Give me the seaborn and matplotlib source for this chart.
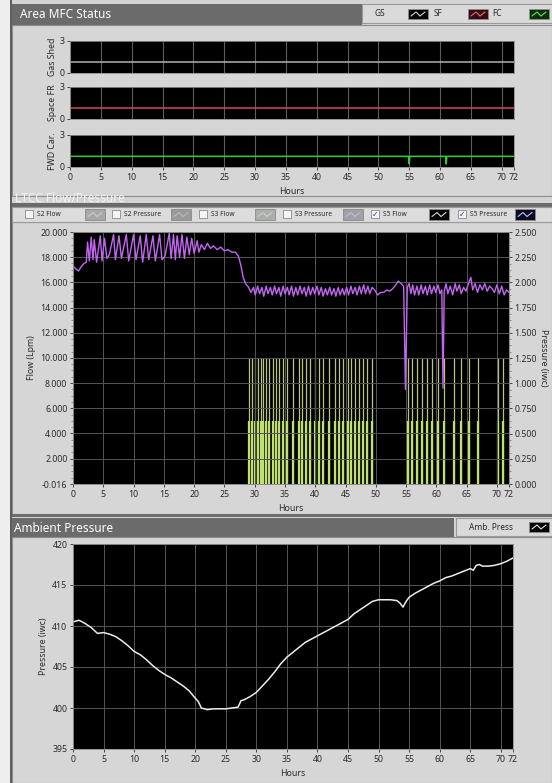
import matplotlib
matplotlib.use("Agg")
import matplotlib.pyplot as plt
import seaborn as sns
from matplotlib.patches import Rectangle
from matplotlib.lines import Line2D
from matplotlib.ticker import MultipleLocator, FormatStrFormatter

# ---------------- data ----------------
hour_ticks = [0, 5, 10, 15, 20, 25, 30, 35, 40, 45, 50, 55, 60, 65, 70, 72]

# Area MFC status (state lines)
gas_shed_hours = [0, 72]
gas_shed_state = [1, 1]
space_fr_hours = [0, 72]
space_fr_state = [1, 1]
fwd_car_hours = [0, 54.9, 55.0, 55.1, 60.9, 61.0, 61.1, 72]
fwd_car_state = [1, 1, 0.3, 1, 1, 0.3, 1, 1]

# LTCC S5 flow (purple trace)
flow_hours = [0.0, 0.4, 0.9, 1.3, 1.8, 2.2,
              2.4, 2.7, 3.0, 3.3, 3.5, 3.9, 4.5, 4.8, 5.2, 5.6, 6.0, 6.7, 7.0, 7.6,
              8.0, 8.8, 9.2, 10.0, 10.4, 11.1, 11.5, 12.1, 12.5, 13.2, 13.6, 14.3, 14.7,
              15.2, 15.9, 16.2, 16.6, 16.9, 17.2, 17.6, 18.0, 18.4, 18.8, 19.2, 19.6,
              20.0, 20.5, 20.8, 21.2, 21.7, 22.2, 22.7, 23.2, 23.8, 24.4, 25.0, 25.6,
              26.2, 26.8, 27.3, 27.7, 28.1, 28.5, 29.0, 29.4,
              29.8, 30.1, 30.5, 30.8, 31.2, 31.5, 31.9, 32.2, 32.6, 32.9, 33.3, 33.6,
              34.0, 34.3, 34.7, 35.0, 35.4, 35.7, 36.1, 36.4, 36.8, 37.1, 37.5, 37.8,
              38.2, 38.5, 38.9, 39.2, 39.6, 39.9, 40.3, 40.6, 41.0, 41.3, 41.7, 42.0,
              42.4, 42.7, 43.1, 43.4, 43.8, 44.1, 44.5, 44.8, 45.2, 45.5, 45.9, 46.2,
              46.6, 46.9, 47.3, 47.6, 48.0, 48.3, 48.7, 49.0, 49.4,
              49.8, 50.3, 50.8, 51.3, 51.8, 52.3, 52.8, 53.3, 53.7, 54.2, 54.6, 54.9,
              55.2, 55.5, 55.8, 56.1, 56.4, 56.8, 57.1, 57.5, 57.8, 58.2, 58.5, 58.9,
              59.2, 59.6, 59.9, 60.3, 60.6, 60.9, 61.1, 61.3, 61.6, 61.9, 62.3, 62.7,
              63.1, 63.4, 63.8, 64.1, 64.5, 64.9, 65.3, 65.7, 66.0, 66.4, 66.8, 67.2,
              67.6, 68.0, 68.4, 68.8, 69.2, 69.6, 70.0, 70.4, 70.8, 71.2, 71.6, 72.0]
flow_lpm = [17.3, 17.1, 16.9, 17.2, 17.5, 17.6,
            19.2, 17.7, 19.6, 17.8, 19.4, 17.6, 19.7, 17.7, 19.5, 17.9, 18.2, 19.8, 17.8, 19.7,
            17.9, 19.8, 17.7, 19.8, 17.8, 19.7, 17.6, 19.8, 17.8, 19.7, 17.7, 19.8, 17.8,
            18.1, 19.9, 17.9, 19.8, 17.8, 19.7, 18.0, 19.8, 17.9, 19.6, 18.2, 19.5,
            18.3, 19.3, 18.4, 19.0, 18.6, 19.1, 18.7, 18.9, 18.6, 18.8, 18.5, 18.6,
            18.4, 18.4, 18.1, 17.4, 16.4, 15.9, 15.6, 15.2,
            15.6, 15.0, 15.7, 15.1, 15.6, 14.9, 15.7, 15.1, 15.6, 15.0, 15.7, 15.1,
            15.6, 14.9, 15.7, 15.1, 15.6, 15.0, 15.7, 14.9, 15.6, 15.0, 15.7, 15.1,
            15.6, 14.9, 15.7, 15.0, 15.6, 15.1, 15.7, 15.0, 15.6, 14.9, 15.5, 15.0,
            15.6, 15.0, 15.5, 14.9, 15.6, 15.0, 15.5, 15.0, 15.6, 15.0, 15.7, 15.1,
            15.6, 15.0, 15.7, 15.1, 15.8, 15.1, 15.7, 15.1, 15.6,
            15.4, 15.0, 15.2, 15.2, 15.4, 15.3, 15.5, 15.8, 16.1, 15.9, 15.7, 7.5,
            15.6, 15.9, 15.1, 15.8, 15.0, 15.7, 15.0, 15.8, 15.1, 15.7, 15.0, 15.8,
            15.1, 15.7, 15.2, 15.8, 15.1, 15.4, 7.6, 15.3, 15.9, 15.1, 15.7, 15.0,
            15.9, 15.3, 15.8, 15.1, 15.6, 15.3, 15.9, 16.4, 15.4, 15.9, 15.2, 15.8,
            15.4, 15.9, 15.3, 15.7, 15.5, 15.2, 15.8, 15.1, 15.7, 15.0, 15.4, 15.2]

# LTCC S5 pressure pulses (green-yellow bars)
pulse_hours = [29.1, 29.6, 30.1, 30.5, 31.0, 31.4, 31.9, 32.4, 33.0, 33.5, 34.1,
               34.6, 35.4, 36.4, 37.3, 37.8, 38.5, 39.1, 39.9, 40.6, 41.3, 42.2,
               43.2, 44.0, 44.6, 45.4, 45.9, 46.6, 47.3, 47.9, 48.6, 49.4,
               55.3, 55.9, 56.8, 57.6, 58.4, 59.3, 60.3, 61.3, 62.9, 64.1, 65.4,
               66.9, 70.2, 71.0]
pulse_peak_iwc = 1.25
pulse_hold_iwc = 0.625

# Ambient pressure
amb_hours = [0, 1, 2, 3, 4, 5, 6, 7, 8, 9, 10, 11, 12, 13, 14, 15, 16, 17, 18, 19,
             20, 20.5, 21, 22, 23, 24, 25, 26, 27, 27.5, 28, 29, 30, 31, 32, 33, 34,
             35, 36, 37, 38, 39, 40, 41, 42, 43, 44, 45, 46, 47, 48, 49, 50, 51, 52,
             53, 53.5, 54, 54.5, 55, 56, 57, 58, 59, 60, 61, 62, 63, 64, 65, 65.5, 66,
             66.5, 67, 68, 69, 70, 71, 72]
amb_pressure = [410.5, 410.7, 410.3, 409.8, 409.1, 409.2, 409.0, 408.7, 408.2, 407.6,
                406.9, 406.5, 405.9, 405.2, 404.6, 404.1, 403.7, 403.2, 402.7, 402.1,
                401.2, 400.8, 400.0, 399.8, 399.9, 399.9, 399.9, 400.0, 400.1, 400.9,
                401.0, 401.4, 401.9, 402.7, 403.5, 404.4, 405.4, 406.2, 406.8, 407.4,
                408.0, 408.4, 408.8, 409.2, 409.6, 410.0, 410.4, 410.8, 411.5, 412.0,
                412.5, 413.0, 413.2, 413.2, 413.2, 413.1, 412.8, 412.3, 413.0, 413.5,
                414.0, 414.4, 414.8, 415.2, 415.5, 415.9, 416.1, 416.4, 416.7, 417.0,
                416.8, 417.4, 417.5, 417.3, 417.3, 417.4, 417.6, 417.9, 418.3]

# ---------------- figure ----------------
sns.set_style("dark")
plt.rcParams['font.family'] = ['Noto Sans', 'DejaVu Sans']

W, H = 552, 783
fig = plt.figure(figsize=(W / 100, H / 100), dpi=100, facecolor='#d4d4d4')
TICK = 6.3
GRID = '#555555'


def box(x0, y0, x1, y1):
    return [x0 / W, 1 - y1 / H, (x1 - x0) / W, (y1 - y0) / H]


def rect(x0, y0, x1, y1, fc, ec='none', lw=0.8):
    fig.add_artist(Rectangle((x0 / W, 1 - y1 / H), (x1 - x0) / W, (y1 - y0) / H,
                             transform=fig.transFigure, facecolor=fc, edgecolor=ec,
                             linewidth=lw, zorder=0))


def txt(x, y, s, size=6, color='#2a2a2a', **kw):
    fig.text(x / W, 1 - y / H, s, fontsize=size, color=color, va='center', **kw)


def icon(x0, y0, fc, lc):
    rect(x0, y0, x0 + 20, y0 + 10, fc, '#8a8a8a', 0.6)
    fig.add_artist(Line2D([(x0 + 3) / W, (x0 + 8) / W, (x0 + 12) / W, (x0 + 17) / W],
                          [1 - (y0 + 7) / H, 1 - (y0 + 3) / H, 1 - (y0 + 7) / H, 1 - (y0 + 3) / H],
                          transform=fig.transFigure, color=lc, lw=0.8))


def checkbox(x, y, checked):
    rect(x, y, x + 8, y + 8, '#f4f4f4', '#8a8a8a', 0.6)
    if checked:
        txt(x + 4, y + 4.5, '✓', size=5.5, color='#2040a0', ha='center',
            family='DejaVu Sans')


def style(ax):
    ax.set_facecolor('black')
    for s in ax.spines.values():
        s.set_color('#8c8c8c')
        s.set_linewidth(0.6)
    ax.tick_params(axis='both', which='major', colors='#2a2a2a', labelsize=TICK,
                   length=2.5, width=0.6, pad=1.5, left=True, bottom=True)
    ax.tick_params(axis='both', which='minor', color='#6a6a6a', length=1.5, width=0.5)


def set_grid(ax):
    ax.xaxis.grid(True, which='major', color=GRID, linewidth=0.7)
    ax.yaxis.grid(True, which='major', color=GRID, linewidth=0.7)
    ax.xaxis.grid(False, which='minor')
    ax.yaxis.grid(False, which='minor')


# panels and headers
rect(0, 0, 10, 783, '#eeeeee')
rect(10, 0, 12, 783, '#5e5e5e')
rect(12, 25, 552, 196, '#d6d6d6', '#8c8c8c')
rect(12, 222, 552, 514, '#d6d6d6', '#8c8c8c')
rect(12, 537, 552, 783, '#d6d6d6', '#8c8c8c')
rect(12, 514, 552, 517, '#6e6e6e')
rect(12, 4, 362, 25, '#6b6b6b')
rect(362, 4, 552, 23, '#dadada', '#9a9a9a')
rect(12, 203, 552, 207, '#6b6b6b')
rect(12, 207, 552, 222, '#dcdcdc', '#9a9a9a')
rect(12, 518, 454, 537, '#6b6b6b')
rect(456, 518, 552, 536, '#dadada', '#9a9a9a')

txt(20, 14, 'Area MFC Status', size=8.5, color='white')
txt(15, 199, 'LTCC Flow/Pressure', size=8.5, color='#f4f4f4')
txt(14, 528, 'Ambient Pressure', size=8.5, color='white')

# top legend
txt(380, 14, 'GS', size=6, ha='center')
icon(408, 9, '#050505', '#d0d0d0')
txt(438, 14, 'SF', size=6, ha='center')
icon(468, 9, '#3a0a14', '#e07080')
txt(497, 14, 'FC', size=6, ha='center')
icon(529, 9, '#0a300a', '#60e060')

# LTCC legend row
legend_items = [(25, 'S2 Flow', 85, '#a8a8a8', '#c8c8c8', False),
                (112, 'S2 Pressure', 171, '#9a9a9a', '#bbbbbb', False),
                (199, 'S3 Flow', 255, '#a8b0a8', '#c8d0c8', False),
                (283, 'S3 Pressure', 343, '#a0a0a8', '#c0c0c8', False),
                (371, 'S5 Flow', 429, '#050505', '#d8d8d8', True),
                (458, 'S5 Pressure', 515, '#0a0a20', '#c0c0ff', True)]
for cx, name, ix, fc, lc, chk in legend_items:
    checkbox(cx, 210, chk)
    txt(cx + 12, 214.5, name, size=4.8)
    icon(ix, 209.5, fc, lc)

# ambient legend
txt(491, 527, 'Amb. Press', size=6, ha='center')
icon(529, 522, '#050505', '#e0e0e0')

# ---------------- Area MFC status ----------------
status = [(gas_shed_hours, gas_shed_state, 'Gas Shed', '#b0b0b0', (70, 41, 514, 73)),
          (space_fr_hours, space_fr_state, 'Space FR', '#d04858', (70, 87, 514, 119)),
          (fwd_car_hours, fwd_car_state, 'FWD Car.', '#2ed02e', (70, 135, 514, 167))]
for i, (hx, st, lab, col, pos) in enumerate(status):
    ax = fig.add_axes(box(*pos))
    style(ax)
    # vertical grid every 5 h drawn explicitly behind the trace
    ax.vlines(hour_ticks[:-1], 0, 3, color='#5c5c5c', linewidth=0.8, zorder=0.8)
    sns.lineplot(x=hx, y=st, ax=ax, color=col, linewidth=1.1, estimator=None)
    ax.set_xlim(0, 72)
    ax.set_ylim(0, 3)
    ax.set_yticks([0, 3])
    ax.set_ylabel(lab, fontsize=6.3, color='#2a2a2a', labelpad=2)
    if i < 2:
        ax.set_xticks(hour_ticks[:-1])
        ax.tick_params(axis='x', bottom=False, labelbottom=False)
    else:
        ax.set_xticks(hour_ticks)
        ax.xaxis.set_minor_locator(MultipleLocator(1))
        ax.set_xlabel('Hours', fontsize=6.3, color='#2a2a2a', labelpad=4)
    ax.grid(False)

# ---------------- LTCC flow / pressure ----------------
ax = fig.add_axes(box(73, 232, 509, 484))
style(ax)
ax2 = ax.twinx()
ax2.set_ylim(0, 2.5)
ax2.vlines(pulse_hours, 0, pulse_peak_iwc, color='#d8e8a0', linewidth=0.9, alpha=0.85)
ax2.vlines(pulse_hours, 0, pulse_hold_iwc, color='#c0e070', linewidth=1.6)
ax2.set_yticks([0, 0.25, 0.5, 0.75, 1.0, 1.25, 1.5, 1.75, 2.0, 2.25, 2.5])
ax2.yaxis.set_major_formatter(FormatStrFormatter('%.3f'))
ax2.yaxis.set_minor_locator(MultipleLocator(0.0625))
ax2.tick_params(axis='y', which='major', colors='#2a2a2a', labelsize=TICK, length=2.5,
                width=0.6, pad=1.5, right=True)
ax2.tick_params(axis='y', which='minor', color='#6a6a6a', length=1.5, width=0.5, right=True)
ax2.set_ylabel('Pressure (iwc)', fontsize=6.3, color='#2a2a2a', rotation=270, labelpad=8)
ax2.grid(False)
for s in ax2.spines.values():
    s.set_color('#8c8c8c')
    s.set_linewidth(0.6)

ax.set_zorder(ax2.get_zorder() + 1)
ax.patch.set_visible(False)
ax2.set_facecolor('black')
ax2.patch.set_visible(True)
sns.lineplot(x=flow_hours, y=flow_lpm, ax=ax, color='#c266f2', linewidth=1.0,
             estimator=None, sort=False)
ax.set_xlim(0, 72)
ax.set_ylim(-0.016, 20.0)
ax.set_yticks([-0.016, 2, 4, 6, 8, 10, 12, 14, 16, 18, 20])
ax.yaxis.set_major_formatter(FormatStrFormatter('%.3f'))
ax.yaxis.set_minor_locator(MultipleLocator(0.5))
ax.set_xticks(hour_ticks)
ax.xaxis.set_minor_locator(MultipleLocator(1))
ax.set_ylabel('Flow (Lpm)', fontsize=6.3, color='#2a2a2a', labelpad=3)
ax.set_xlabel('Hours', fontsize=6.3, color='#2a2a2a', labelpad=4)
set_grid(ax)
for gl in ax.get_xgridlines() + ax.get_ygridlines():
    gl.set_zorder(0.5)

# ---------------- Ambient pressure ----------------
ax = fig.add_axes(box(73, 544, 513, 749))
style(ax)
sns.lineplot(x=amb_hours, y=amb_pressure, ax=ax, color='#ececec', linewidth=1.1,
             estimator=None)
ax.set_xlim(0, 72)
ax.set_ylim(395, 420)
ax.set_yticks([395, 400, 405, 410, 415, 420])
ax.yaxis.set_minor_locator(MultipleLocator(1))
ax.set_xticks(hour_ticks)
ax.xaxis.set_minor_locator(MultipleLocator(1))
ax.set_ylabel('Pressure (iwc)', fontsize=6.3, color='#2a2a2a', labelpad=3)
ax.set_xlabel('Hours', fontsize=6.3, color='#2a2a2a', labelpad=4)
set_grid(ax)

fig.savefig('out.png', dpi=100, facecolor=fig.get_facecolor())
